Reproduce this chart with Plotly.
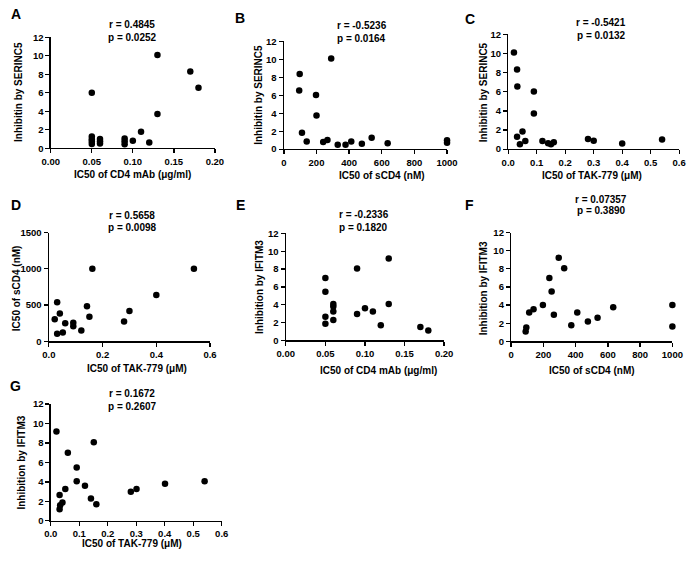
import plotly.graph_objects as go

W, H = 696, 565

# ---------------- data ----------------
# A: IC50 of CD4 mAb vs inhibition by SERINC5
a_x = [0.05, 0.05, 0.05, 0.05, 0.05, 0.06, 0.06, 0.06, 0.09, 0.09, 0.09, 0.10, 0.11, 0.12, 0.13, 0.13, 0.17, 0.18]
a_y = [6.0, 1.27, 0.98, 0.72, 0.45, 1.0, 0.75, 0.5, 1.05, 0.76, 0.42, 0.8, 1.78, 0.62, 3.7, 10.1, 8.3, 6.55]
# B: IC50 of sCD4 vs inhibition by SERINC5
b_x = [94, 97, 111, 140, 197, 200, 241, 267, 290, 330, 378, 413, 478, 538, 636, 1000, 1000]
b_y = [6.53, 8.36, 1.83, 0.84, 6.02, 3.74, 0.81, 1.03, 10.1, 0.48, 0.48, 0.84, 0.59, 1.28, 0.66, 1.0, 0.7]
# C: IC50 of TAK-779 vs inhibition by SERINC5
c_x = [0.02, 0.031, 0.032, 0.09, 0.09, 0.031, 0.05, 0.041, 0.06, 0.12, 0.14, 0.15, 0.16, 0.28, 0.30, 0.40, 0.54]
c_y = [10.1, 8.34, 6.56, 6.02, 3.73, 1.30, 1.85, 0.51, 0.85, 0.85, 0.62, 0.51, 0.72, 1.06, 0.89, 0.6, 1.0]
# D: IC50 of TAK-779 vs IC50 of sCD4
d_x = [0.022, 0.031, 0.031, 0.041, 0.052, 0.061, 0.091, 0.091, 0.121, 0.142, 0.151, 0.162, 0.28, 0.30, 0.40, 0.54]
d_y = [306, 540, 104, 383, 122, 248, 257, 207, 149, 482, 338, 1000, 275, 419, 640, 1000]
# E: IC50 of CD4 mAb vs inhibition by IFITM3
e_x = [0.05, 0.05, 0.05, 0.05, 0.06, 0.06, 0.06, 0.06, 0.09, 0.09, 0.10, 0.11, 0.12, 0.13, 0.13, 0.17, 0.18]
e_y = [7.0, 5.47, 2.64, 1.87, 4.07, 3.8, 3.23, 2.28, 8.07, 2.97, 3.6, 3.23, 1.69, 9.2, 4.07, 1.5, 1.1]
# F: IC50 of sCD4 vs inhibition by IFITM3
f_x = [90, 94, 112, 139, 197, 237, 251, 265, 295, 329, 373, 410, 476, 536, 633, 1000, 1000]
f_y = [1.08, 1.52, 3.18, 3.54, 4.01, 6.98, 5.49, 2.93, 9.22, 8.06, 1.77, 3.18, 2.20, 2.60, 3.76, 4.01, 1.63]
# G: IC50 of TAK-779 vs inhibition by IFITM3
g_x = [0.02, 0.151, 0.06, 0.091, 0.091, 0.12, 0.051, 0.031, 0.141, 0.16, 0.041, 0.033, 0.031, 0.281, 0.301, 0.401, 0.54]
g_y = [9.18, 8.07, 6.99, 5.48, 4.07, 3.6, 3.26, 2.66, 2.29, 1.71, 1.88, 1.6, 1.18, 2.99, 3.26, 3.8, 4.07]

# tick values / labels
ticks_y12 = [0, 2, 4, 6, 8, 10, 12]
ticks_y12_lbl = ["0", "2", "4", "6", "8", "10", "12"]
ticks_mab = [0, 0.05, 0.10, 0.15, 0.20]
ticks_mab_lbl = ["0.00", "0.05", "0.10", "0.15", "0.20"]
ticks_scd4 = [0, 200, 400, 600, 800, 1000]
ticks_scd4_lbl = ["0", "200", "400", "600", "800", "1000"]
ticks_tak = [0, 0.1, 0.2, 0.3, 0.4, 0.5, 0.6]
ticks_tak_lbl = ["0.0", "0.1", "0.2", "0.3", "0.4", "0.5", "0.6"]
ticks_tak2 = [0, 0.2, 0.4, 0.6]
ticks_tak2_lbl = ["0.0", "0.2", "0.4", "0.6"]
ticks_d_y = [0, 500, 1000, 1500]
ticks_d_y_lbl = ["0", "500", "1000", "1500"]

stats_r = ["r = 0.4845", "r = -0.5236", "r = -0.5421", "r = 0.5658", "r = -0.2336", "r = 0.07357", "r = 0.1672"]
stats_p = ["p = 0.0252", "p = 0.0164", "p = 0.0132", "p = 0.0098", "p = 0.1820", "p = 0.3890", "p = 0.2607"]
letters = ["A", "B", "C", "D", "E", "F", "G"]
x_titles = ["IC50 of CD4 mAb (μg/ml)", "IC50 of sCD4 (nM)", "IC50 of TAK-779 (μM)",
            "IC50 of TAK-779 (μM)", "IC50 of CD4 mAb (μg/ml)", "IC50 of sCD4 (nM)", "IC50 of TAK-779 (μM)"]
y_titles = ["Inhibitin by SERINC5", "Inhibitin by SERINC5", "Inhibitin by SERINC5",
            "IC50 of sCD4 (nM)", "Inhibition by IFITM3", "Inhibition by IFITM3", "Inhibition by IFITM3"]

# ---------------- layout (pixels) ----------------
FONT = "Liberation Sans, Arial, sans-serif"
panels = [
    dict(x=a_x, y=a_y, box=(43, 212, 32, 145), xr=[0, 0.2], yr=[0, 12], xt=(ticks_mab, ticks_mab_lbl), yt=(ticks_y12, ticks_y12_lbl),
         st=(127, 19, 32), xtp=(127, 172), ytp=(10, 88), lp=(7, 8)),
    dict(x=b_x, y=b_y, box=(283, 451, 36, 146), xr=[0, 1000], yr=[0, 12], xt=(ticks_scd4, ticks_scd4_lbl), yt=(ticks_y12, ticks_y12_lbl),
         st=(363, 20, 33), xtp=(384, 173), ytp=(257, 91), lp=(238, 12)),
    dict(x=c_x, y=c_y, box=(514, 690, 29, 146), xr=[0, 0.6], yr=[0, 12], xt=(ticks_tak, ticks_tak_lbl), yt=(ticks_y12, ticks_y12_lbl),
         st=(610, 17, 30), xtp=(600, 173), ytp=(488, 88), lp=(475, 13)),
    dict(x=d_x, y=d_y, box=(41, 207, 231, 342), xr=[0, 0.6], yr=[0, 1500], xt=(ticks_tak2, ticks_tak2_lbl), yt=(ticks_d_y, ticks_d_y_lbl),
         st=(127, 214, 226), xtp=(132, 370), ytp=(8, 288), lp=(7, 203)),
    dict(x=e_x, y=e_y, box=(285, 448, 232, 341), xr=[0, 0.2], yr=[0, 12], xt=(ticks_mab, ticks_mab_lbl), yt=(ticks_y12, ticks_y12_lbl),
         st=(365, 213, 226), xtp=(380, 372), ytp=(258, 287), lp=(238, 203)),
    dict(x=f_x, y=f_y, box=(517, 683, 231, 342), xr=[0, 1000], yr=[0, 12], xt=(ticks_scd4, ticks_scd4_lbl), yt=(ticks_y12, ticks_y12_lbl),
         st=(610, 197, 209), xtp=(600, 372), ytp=(488, 288), lp=(474, 203)),
    dict(x=g_x, y=g_y, box=(43, 219, 406, 525), xr=[0, 0.6], yr=[0, 12], xt=(ticks_tak, ticks_tak_lbl), yt=(ticks_y12, ticks_y12_lbl),
         st=(127, 395, 408), xtp=(127, 548), ytp=(13, 466), lp=(7, 388)),
]

def px(xp):
    return xp / W

def py(yp):
    return 1 - yp / H

fig = go.Figure()
layout = dict(width=W, height=H, margin=dict(l=0, r=0, t=0, b=0), showlegend=False,
              paper_bgcolor="white", plot_bgcolor="white", annotations=[])
axis_common = dict(showline=True, linecolor="black", linewidth=1.3, ticks="outside", ticklen=4,
                   tickwidth=1.3, tickcolor="black", showgrid=False, zeroline=False,
                   ticklabeloverflow="allow",
                   tickfont=dict(family=FONT, size=9.5, color="black", weight="bold"))

for i, p in enumerate(panels):
    n = "" if i == 0 else str(i + 1)
    l, r, t, b = p["box"]
    fig.add_trace(go.Scatter(x=p["x"], y=p["y"], mode="markers", xaxis="x" + n, yaxis="y" + n,
                             marker=dict(color="black", size=6.5), cliponaxis=False, hoverinfo="skip"))
    layout["xaxis" + n] = dict(axis_common, domain=[px(l), px(r)], range=p["xr"], anchor="y" + n,
                               tickvals=p["xt"][0], ticktext=p["xt"][1])
    layout["yaxis" + n] = dict(axis_common, domain=[py(b), py(t)], range=p["yr"], anchor="x" + n,
                               tickvals=p["yt"][0], ticktext=p["yt"][1])
    ann = layout["annotations"]
    sx, sr, sp = p["st"]
    for txt, yy in ((stats_r[i], sr), (stats_p[i], sp)):
        ann.append(dict(text=txt, x=px(sx), y=py(yy), xref="paper", yref="paper", showarrow=False,
                        xanchor="center", yanchor="middle",
                        font=dict(family=FONT, size=10, color="black", weight="bold")))
    ann.append(dict(text=x_titles[i], x=px(p["xtp"][0]), y=py(p["xtp"][1]), xref="paper", yref="paper",
                    showarrow=False, xanchor="center", yanchor="middle",
                    font=dict(family=FONT, size=10, color="black", weight="bold")))
    ann.append(dict(text=y_titles[i], x=px(p["ytp"][0]), y=py(p["ytp"][1]), xref="paper", yref="paper",
                    showarrow=False, xanchor="center", yanchor="middle", textangle=-90,
                    font=dict(family=FONT, size=10, color="black", weight="bold")))
    ann.append(dict(text=letters[i], x=px(p["lp"][0]), y=py(p["lp"][1]), xref="paper", yref="paper",
                    showarrow=False, xanchor="center", yanchor="middle",
                    font=dict(family=FONT, size=14, color="black", weight="bold")))

fig.update_layout(**layout)
fig.write_html("out.html", config={"displayModeBar": False, "staticPlot": True},
               post_script="document.body.style.margin='0';document.body.style.overflow='hidden';")
